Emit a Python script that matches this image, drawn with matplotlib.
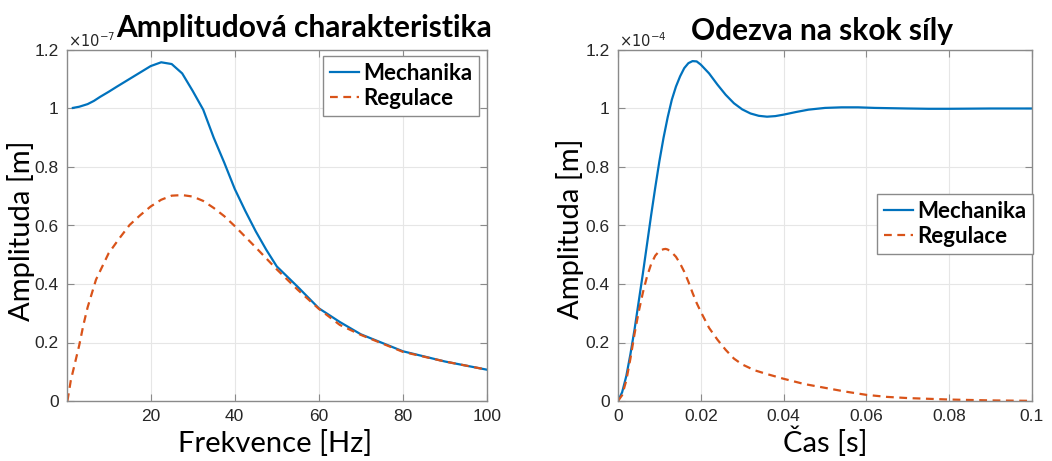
import matplotlib
matplotlib.use("Agg")
import matplotlib.pyplot as plt
from matplotlib.ticker import FixedLocator, FixedFormatter

# ---- Data: left panel (frequency response), amplitude in units of 1e-7 m ----
freq_mech = [1.5, 3, 5, 6.5, 8, 10, 12, 16, 20, 22.5, 25, 27.5, 30, 32.5, 35, 37.5,
             40, 42.5, 45, 47.5, 50, 55, 60, 65, 70, 80, 90, 100]
amp_mech = [1.002, 1.006, 1.015, 1.026, 1.04, 1.057, 1.075, 1.11, 1.145, 1.158,
            1.152, 1.12, 1.06, 0.996, 0.90, 0.815, 0.725, 0.65, 0.58, 0.517, 0.46,
            0.39, 0.317, 0.27, 0.228, 0.17, 0.135, 0.107]
freq_reg = [0.2, 1, 2, 3, 4, 5, 7, 10, 12.5, 15, 17.5, 20, 22.5, 25, 27.5, 30, 32.5,
            35, 37.5, 40, 45, 50, 55, 60, 65, 70, 80, 90, 100]
amp_reg = [0.0, 0.07, 0.13, 0.19, 0.26, 0.32, 0.415, 0.505, 0.555, 0.602, 0.635,
           0.665, 0.688, 0.702, 0.704, 0.699, 0.684, 0.66, 0.632, 0.598, 0.525,
           0.45, 0.38, 0.315, 0.26, 0.226, 0.168, 0.135, 0.107]

# ---- Data: right panel (step response), amplitude in units of 1e-4 m ----
t_mech = [0, 0.001, 0.002, 0.003, 0.004, 0.005, 0.006, 0.007, 0.008, 0.009, 0.010,
          0.011, 0.012, 0.013, 0.014, 0.015, 0.016, 0.017, 0.018, 0.019, 0.020,
          0.022, 0.024, 0.026, 0.028, 0.030, 0.032, 0.034, 0.036, 0.038, 0.040,
          0.043, 0.046, 0.050, 0.054, 0.058, 0.062, 0.066, 0.070, 0.075, 0.080,
          0.090, 0.100]
y_mech = [0, 0.03, 0.085, 0.16, 0.245, 0.34, 0.435, 0.535, 0.635, 0.73, 0.82,
          0.90, 0.97, 1.03, 1.075, 1.11, 1.138, 1.155, 1.162, 1.161, 1.15,
          1.12, 1.082, 1.047, 1.018, 0.997, 0.983, 0.975, 0.972, 0.974, 0.979,
          0.988, 0.996, 1.002, 1.004, 1.004, 1.002, 1.001, 1.0, 0.999, 0.999,
          1.0, 1.0]
t_reg = [0, 0.001, 0.002, 0.003, 0.004, 0.005, 0.006, 0.007, 0.008, 0.009, 0.010,
         0.011, 0.0115, 0.012, 0.013, 0.014, 0.015, 0.016, 0.017, 0.018, 0.019,
         0.020, 0.022, 0.024, 0.026, 0.028, 0.030, 0.033, 0.036, 0.040, 0.045,
         0.050, 0.055, 0.060, 0.065, 0.070, 0.080, 0.090, 0.100]
y_reg = [0, 0.02, 0.07, 0.145, 0.23, 0.305, 0.37, 0.425, 0.468, 0.497, 0.513,
         0.519, 0.52, 0.518, 0.508, 0.493, 0.47, 0.442, 0.408, 0.37, 0.335,
         0.305, 0.25, 0.21, 0.175, 0.145, 0.125, 0.105, 0.092, 0.076, 0.058,
         0.045, 0.032, 0.021, 0.014, 0.010, 0.005, 0.002, 0.0005]

yticks = [0, 0.2, 0.4, 0.6, 0.8, 1.0, 1.2]
ytick_labels = ["0", "0.2", "0.4", "0.6", "0.8", "1", "1.2"]
left_xticks = [20, 40, 60, 80, 100]
left_xtick_labels = ["20", "40", "60", "80", "100"]
right_xticks = [0, 0.02, 0.04, 0.06, 0.08, 0.1]
right_xtick_labels = ["0", "0.02", "0.04", "0.06", "0.08", "0.1"]

BLUE = "#0072BD"
ORANGE = "#D95319"
SPINE = "#8a8a8a"
TICKTXT = "#262626"
TITLE_FONT = ["Lato", "DejaVu Sans"]
TICK_FONT = ["Liberation Sans", "DejaVu Sans"]

W, H = 1052, 461
fig = plt.figure(figsize=(W / 100, H / 100), dpi=100)


def px_axes(x0, x1, y0, y1):
    return fig.add_axes([x0 / W, 1 - y1 / H, (x1 - x0) / W, (y1 - y0) / H])


def style(ax, xticks, xlabels):
    ax.set_ylim(0, 1.2)
    ax.yaxis.set_major_locator(FixedLocator(yticks))
    ax.yaxis.set_major_formatter(FixedFormatter(ytick_labels))
    ax.xaxis.set_major_locator(FixedLocator(xticks))
    ax.xaxis.set_major_formatter(FixedFormatter(xlabels))
    ax.grid(True, color="#e6e6e6", linewidth=0.8)
    ax.set_axisbelow(True)
    for s in ax.spines.values():
        s.set_color(SPINE)
        s.set_linewidth(1.0)
    ax.tick_params(direction="in", top=True, right=True, length=5, width=0.8,
                   color=SPINE, labelcolor=TICKTXT, labelsize=12.5, pad=6)
    for lab in ax.get_xticklabels() + ax.get_yticklabels():
        lab.set_family(TICK_FONT)


def add_legend(ax, loc_px):
    x0, y0, x1, y1 = loc_px
    leg = ax.legend(loc="upper left", prop={"family": TITLE_FONT, "weight": "bold", "size": 16},
                    frameon=True, fancybox=False, edgecolor="#8a8a8a", framealpha=1,
                    handlelength=1.3, handletextpad=0.2, borderpad=0.3, labelspacing=0.2,
                    borderaxespad=0)
    leg.get_frame().set_linewidth(1.0)
    bb = ax.get_position()
    fx = (x0 / W - bb.x0) / bb.width
    fy = ((1 - y0 / H) - bb.y0) / bb.height
    leg.set_bbox_to_anchor((fx, fy), transform=ax.transAxes)
    return leg


# ---- Left axes ----
ax1 = px_axes(67, 487, 50, 401)
ax1.plot(freq_mech, amp_mech, color=BLUE, lw=1.6, label="Mechanika")
ax1.plot(freq_reg, amp_reg, color=ORANGE, lw=1.6, dashes=(3.5, 2.5), label="Regulace")
ax1.set_xlim(0.1, 100)
style(ax1, left_xticks, left_xtick_labels)
add_legend(ax1, (323, 56, 479, 118))
fig.text(304 / W, 1 - 37 / H, "Amplitudová charakteristika", ha="center", va="baseline",
         family=TITLE_FONT, weight="bold", fontsize=21.5)
fig.text(68 / W, 1 - 47 / H, r"$\times10^{-7}$", ha="left", va="baseline",
         fontsize=10.5, color=TICKTXT, family=TICK_FONT)
fig.text(275 / W, 1 - 452 / H, "Frekvence [Hz]", ha="center", va="baseline",
         family=TITLE_FONT, fontsize=21)
fig.text(21 / W, 1 - 231 / H, "Amplituda [m]", ha="center", va="center", rotation=90,
         family=TITLE_FONT, fontsize=21)

# ---- Right axes ----
ax2 = px_axes(618, 1032, 50, 401)
ax2.plot(t_mech, y_mech, color=BLUE, lw=1.6, label="Mechanika")
ax2.plot(t_reg, y_reg, color=ORANGE, lw=1.6, dashes=(3.5, 2.5), label="Regulace")
ax2.set_xlim(0, 0.1)
style(ax2, right_xticks, right_xtick_labels)
add_legend(ax2, (877, 194, 1033, 256))
fig.text(822 / W, 1 - 40 / H, "Odezva na skok síly", ha="center", va="baseline",
         family=TITLE_FONT, weight="bold", fontsize=21.5)
fig.text(619 / W, 1 - 47 / H, r"$\times10^{-4}$", ha="left", va="baseline",
         fontsize=10.5, color=TICKTXT, family=TICK_FONT)
fig.text(825 / W, 1 - 452 / H, "Čas [s]", ha="center", va="baseline",
         family=TITLE_FONT, fontsize=21)
fig.text(570 / W, 1 - 229 / H, "Amplituda [m]", ha="center", va="center", rotation=90,
         family=TITLE_FONT, fontsize=21)

fig.savefig("out.png", dpi=100)
